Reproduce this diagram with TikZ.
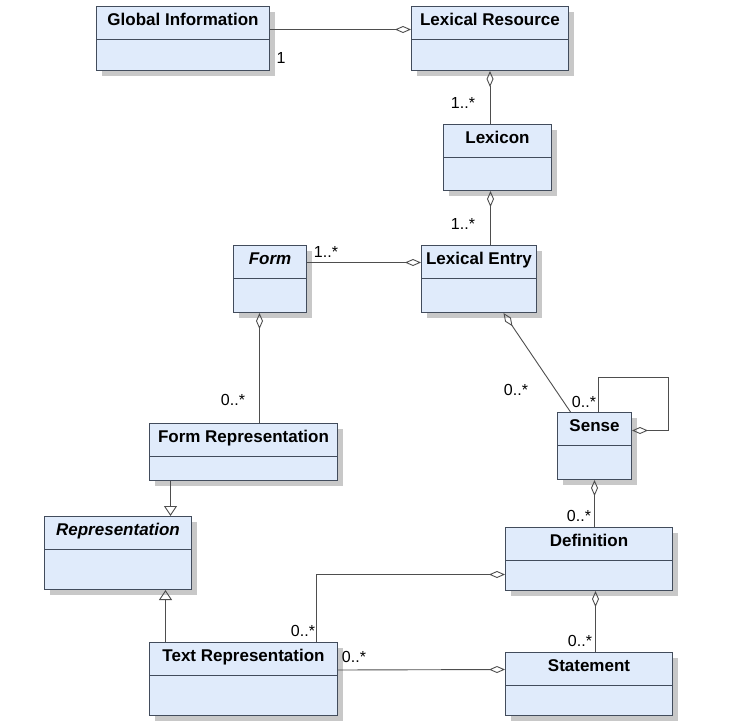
\documentclass[tikz,border=0pt]{standalone}
\usepackage{fontspec}
\setmainfont{Liberation Sans}
\usepackage{tikz}
\usetikzlibrary{arrows.meta,shadows}
\definecolor{classfill}{RGB}{224,235,251}
\definecolor{classdraw}{RGB}{66,76,92}
\definecolor{linkgray}{RGB}{78,78,78}
\definecolor{shadowgray}{RGB}{200,200,200}

\begin{document}
\begin{tikzpicture}
  [x=1pt,y=-1pt,
   classbox/.style={rectangle,anchor=north west,draw=classdraw,line width=1pt,fill=classfill,inner sep=0pt,
     drop shadow={shadow xshift=5pt,shadow yshift=-5pt,fill=shadowgray,opacity=1}},
   classtitle/.style={anchor=base,inner sep=0pt,font=\fontsize{17}{20}\selectfont\bfseries},
   mult/.style={inner sep=0pt,font=\fontsize{16}{18}\selectfont},
   link/.style={draw=linkgray,line width=0.9pt},
   has/.style={link,{Diamond[open,length=16pt,width=7pt]}-},
   isa/.style={link,-{Triangle[open,length=10pt,width=13pt]}}]
  \useasboundingbox (0,0) rectangle (739,723);

  % classes: name/left/top/width/height/title
  \foreach \n/\x/\y/\w/\h/\t in {gi/96/6/173/64/Global Information,
      lr/411/6/157/64/Lexical Resource,
      lex/443/124/108/66/Lexicon,
      form/233/245/73/67/{\itshape Form},
      le/421/245/115/67/Lexical Entry,
      fr/149/423/188/57/Form Representation,
      rep/44/516/147/73/{\itshape Representation},
      sense/557/412/74/67/Sense,
      def/505/527/167/63/Definition,
      tr/149/642/188/73/Text Representation,
      stmt/505/652/167/63/Statement}
  {
    \node[classbox,minimum width=\w pt,minimum height=\h pt] (\n) at (\x,\y) {};
    \draw[classdraw,line width=1pt] ([yshift=-33pt]\n.north west) -- ([yshift=-33pt]\n.north east);
    \node[classtitle] (\n-t) at ([yshift=-19.5pt]\n.north) {\t};
  }

  \coordinate (loop) at (668,377);

  \draw[has] ([yshift=9pt]lr.west) -- ([yshift=9pt]gi.east);
  \draw[has] (lr.south) -- (lr.south |- lex.north);
  \draw[has] ([xshift=-7pt]lex.south) -- ([xshift=11.5pt]le.north);
  \draw[has] ([yshift=16.5pt]le.west) -- ([yshift=16.5pt]form.east);
  \draw[has] ([xshift=-10.5pt]form.south) -- ([xshift=16pt]fr.north);
  \draw[has] ([xshift=24.5pt]le.south) -- ([xshift=-24pt]sense.north);
  \draw[has] ([yshift=15.5pt]sense.east) -| (loop) -| ([xshift=4pt]sense.north);
  \draw[has] (sense.south) -- (sense.south |- def.north);
  \draw[has] ([yshift=-15.5pt]def.west) -| ([xshift=72.5pt]tr.north);
  \draw[has] ([xshift=6.5pt]def.south) -- ([xshift=6.5pt]stmt.north);
  \draw[has] ([yshift=14.5pt]stmt.west) -- ([yshift=9pt]tr.east);

  \draw[isa] ([xshift=-73pt]fr.south) -- ([xshift=52.5pt]rep.north);
  \draw[isa] ([xshift=-78pt]tr.north) -- ([xshift=47.5pt]rep.south);

  % multiplicities
  \node[mult] (m1) at (281,58) {1};
  \node[mult] (m2) at (463,103) {1..*};
  \node[mult] (m3) at (463,224) {1..*};
  \node[mult] (m4) at (326,252) {1..*};
  \node[mult] (m5) at (233,400) {0..*};
  \node[mult] (m6) at (516,390) {0..*};
  \node[mult] (m7) at (584,402) {0..*};
  \node[mult] (m8) at (579,516) {0..*};
  \node[mult] (m9) at (303,631) {0..*};
  \node[mult] (m10) at (354,657) {0..*};
  \node[mult] (m11) at (580,641) {0..*};
\end{tikzpicture}
\end{document}
